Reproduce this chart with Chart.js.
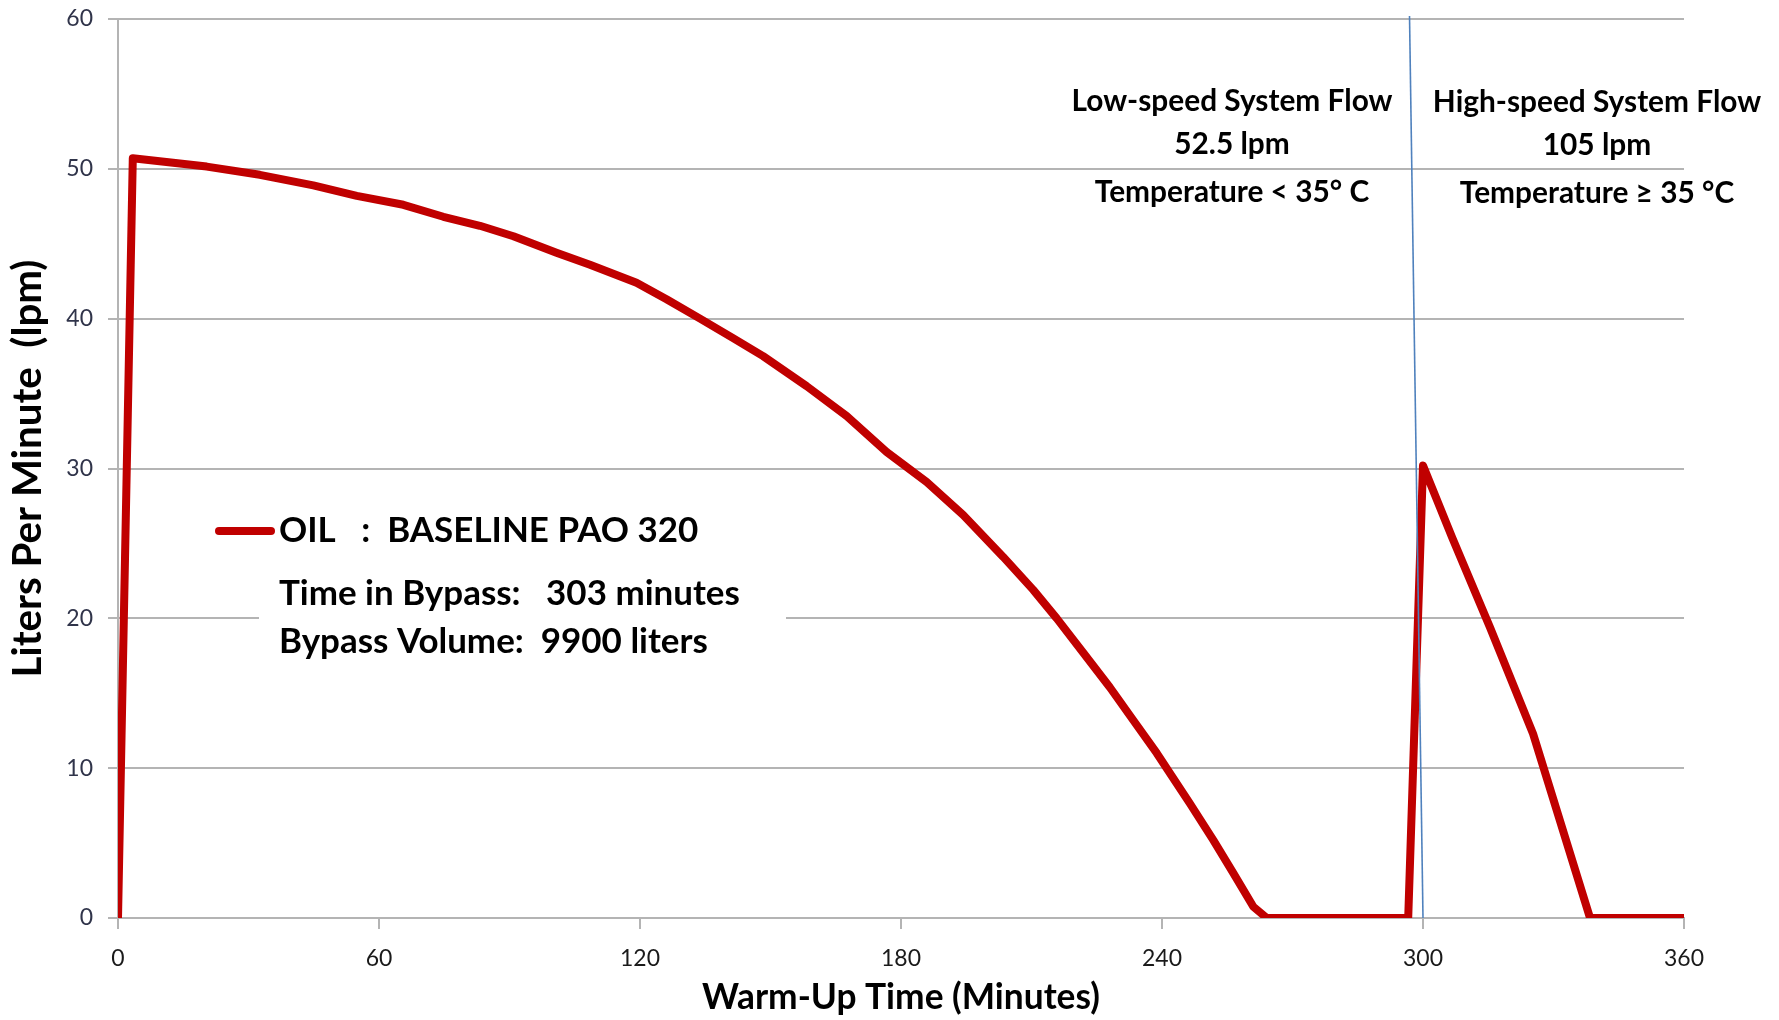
<!DOCTYPE html>
<html>
<head>
<meta charset="utf-8">
<script src="https://cdn.jsdelivr.net/npm/chart.js@4/dist/chart.umd.min.js"></script>
<style>
  html, body { margin: 0; padding: 0; background: #ffffff; }
  #wrap { width: 1779px; height: 1020px; position: relative; }
  canvas { display: block; }
</style>
</head>
<body>
<div id="wrap"><canvas id="c" width="1779" height="1020"></canvas></div>
<script>
// ---------- data ----------
const timeMin = [0, 3.4, 20.4, 32.6, 44.9, 54.9, 65.6, 74.8, 83.2, 90.9, 100.8, 108.5, 119.2, 126.1, 133.8,
  141.4, 148.3, 158.3, 167.5, 176.7, 185.9, 194.3, 203.5, 210.4, 215.8, 221.9, 228.0, 233.4, 238.8,
  246.4, 251.8, 256.4, 261.0, 264.1, 296.6, 300.0, 306.7, 315.4, 325.3, 338.4, 360];
const flowLpm = [0, 50.7, 50.15, 49.6, 48.9, 48.2, 47.6, 46.8, 46.2, 45.5, 44.4, 43.6, 42.4, 41.3, 40.0,
  38.7, 37.5, 35.5, 33.5, 31.1, 29.1, 26.9, 24.1, 21.9, 20.0, 17.7, 15.4, 13.2, 11.0,
  7.65, 5.2, 3.0, 0.75, 0, 0, 30.2, 25.4, 19.4, 12.3, 0, 0];
const boundaryTime = [296.9, 300];
const boundaryFlow = [60.2, 0];
const xTickValues = [0, 60, 120, 180, 240, 300, 360];
const yTickValues = [0, 10, 20, 30, 40, 50, 60];
const seriesName = 'OIL   :  BASELINE PAO 320';
const legendNotes = ['Time in Bypass:   303 minutes', 'Bypass Volume:  9900 liters'];
const lowSpeedNote = ['Low-speed System Flow', '52.5 lpm', 'Temperature < 35\u00B0 C'];
const highSpeedNote = ['High-speed System Flow', '105 lpm', 'Temperature \u2265 35 \u00B0C'];
const xTitle = 'Warm-Up Time (Minutes)';
const yTitle = 'Liters Per Minute  (lpm)';

// ---------- fonts ----------
const FAM = "Lato, 'Open Sans', 'DejaVu Sans', sans-serif";
const mctx = document.createElement('canvas').getContext('2d');
function fitSize(text, weight, target) {
  mctx.font = weight + ' 100px ' + FAM;
  return 100 * target / mctx.measureText(text).width;
}
const xTitleSize = fitSize(xTitle, 'bold', 398);
const yTitleSize = fitSize(yTitle, 'bold', 418);
const legendSize = fitSize(legendNotes[0], 'bold', 461);
const noteSize = fitSize(lowSpeedNote[0], 'bold', 321);
const tickSize = fitSize('360', 'normal', 40);

const oilPoints = timeMin.map((t, i) => ({ x: t, y: flowLpm[i] }));
const boundaryPoints = boundaryTime.map((t, i) => ({ x: t, y: boundaryFlow[i] }));

const GRID = '#b4b4b4';

const overlayPlugin = {
  id: 'overlay',
  beforeDatasetsDraw(chart) {
    const ctx = chart.ctx;
    ctx.save();
    ctx.fillStyle = '#ffffff';
    ctx.fillRect(259, 492, 527, 176);
    ctx.restore();
  },
  afterDraw(chart) {
    const ctx = chart.ctx;
    ctx.save();
    // legend sample line
    ctx.strokeStyle = '#C00000';
    ctx.lineWidth = 8;
    ctx.lineCap = 'round';
    ctx.beginPath();
    ctx.moveTo(219, 531);
    ctx.lineTo(271, 531);
    ctx.stroke();
    ctx.fillStyle = '#000000';
    ctx.textBaseline = 'middle';
    ctx.textAlign = 'left';
    ctx.font = 'bold ' + legendSize.toFixed(2) + 'px ' + FAM;
    ctx.fillText(seriesName, 279, 531);
    ctx.fillText(legendNotes[0], 279, 594);
    ctx.fillText(legendNotes[1], 279, 642);
    // region notes
    ctx.textAlign = 'center';
    ctx.font = 'bold ' + noteSize.toFixed(2) + 'px ' + FAM;
    const rows = [101, 144, 192];
    lowSpeedNote.forEach((s, i) => ctx.fillText(s, 1232, rows[i]));
    highSpeedNote.forEach((s, i) => ctx.fillText(s, 1597, rows[i] + 1));
    ctx.restore();
  }
};

new Chart(document.getElementById('c'), {
  type: 'scatter',
  data: {
    datasets: [
      {
        label: 'Boundary',
        data: boundaryPoints,
        showLine: true,
        borderColor: '#4F81BD',
        borderWidth: 1.6,
        pointRadius: 0,
        clip: false,
        order: 0
      },
      {
        label: seriesName,
        data: oilPoints,
        showLine: true,
        borderColor: '#C00000',
        backgroundColor: '#C00000',
        borderWidth: 8,
        borderJoinStyle: 'round',
        borderCapStyle: 'butt',
        pointRadius: 0,
        tension: 0,
        order: 1
      }
    ]
  },
  options: {
    responsive: false,
    animation: false,
    devicePixelRatio: 1,
    layout: { padding: { left: 0, right: 95, top: 19, bottom: 0 } },
    plugins: { legend: { display: false }, tooltip: { enabled: false } },
    scales: {
      x: {
        type: 'linear',
        min: 0, max: 360,
        afterBuildTicks: s => { s.ticks = xTickValues.map(v => ({ value: v })); },
        afterFit: s => { s.height = 102; s.paddingLeft = 0; s.paddingRight = 0; s.paddingTop = 0; s.paddingBottom = 0; },
        grid: { drawOnChartArea: false, drawTicks: true, tickLength: 11, color: GRID, lineWidth: 2 },
        border: { display: true, color: GRID, width: 2 },
        ticks: { font: { family: FAM, size: tickSize }, color: '#1a1a1a', padding: 16, maxRotation: 0 },
        title: {
          display: true, text: xTitle, color: '#000000',
          font: { family: FAM, size: xTitleSize, weight: 'bold' },
          padding: { top: 0, bottom: 22 - xTitleSize * 0.6 }
        }
      },
      y: {
        type: 'linear',
        min: 0, max: 60,
        afterBuildTicks: s => { s.ticks = yTickValues.map(v => ({ value: v })); },
        afterFit: s => { s.width = 118; s.paddingTop = 0; s.paddingBottom = 0; s.paddingLeft = 0; s.paddingRight = 0; },
        grid: { drawOnChartArea: true, drawTicks: true, tickLength: 10, color: GRID, lineWidth: 2 },
        border: { display: true, color: GRID, width: 2 },
        ticks: { font: { family: FAM, size: tickSize }, color: '#30344a', padding: 15 },
        title: {
          display: true, text: yTitle, color: '#000000',
          font: { family: FAM, size: yTitleSize, weight: 'bold' },
          padding: { top: 28 - yTitleSize * 0.6, bottom: 0 }
        }
      }
    }
  },
  plugins: [overlayPlugin]
});
</script>
</body>
</html>
